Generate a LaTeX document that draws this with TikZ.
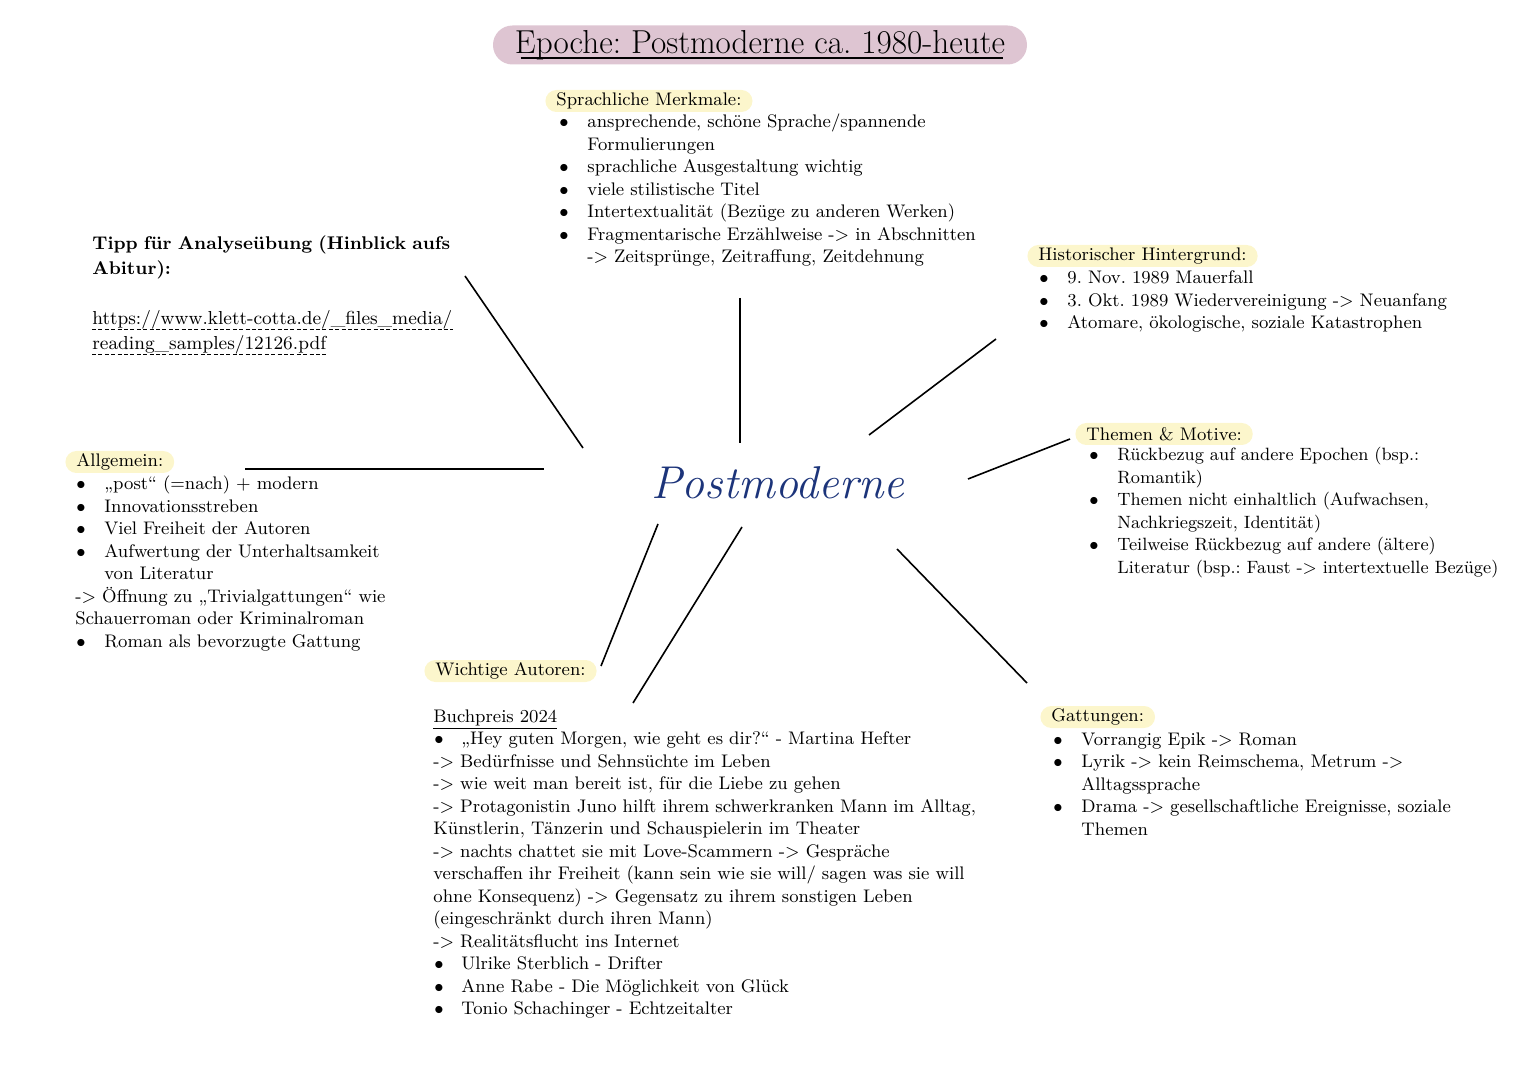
\documentclass[tikz,border=0pt]{standalone}
\usepackage{fontspec}
\usepackage{xcolor}
\usepackage{tikz}
\usetikzlibrary{calc}
\definecolor{titlepink}{RGB}{222,197,210}
\definecolor{marker}{RGB}{252,246,204}
\definecolor{scriptblue}{RGB}{28,52,122}
\newcommand{\bul}{\makebox[14.5pt][l]{\hspace{0.5pt}$\bullet$}}
\newcommand{\ind}{\hspace{14.5pt}}
\newcommand{\ar}{-{>}}
\frenchspacing

\begin{document}
\begin{tikzpicture}
    [x=0.5pt,y=-0.5pt,
     txt/.style={inner sep=0pt,anchor=base west,text width=300pt,align=left,
       font=\fontsize{9.1}{11.25}\selectfont},
     head/.style={anchor=west,fill=marker,rounded corners=5.5pt,inner xsep=5.5pt,
       inner ysep=0pt,minimum height=11pt,font=\fontsize{9.1}{11.25}\selectfont},
     spoke/.style={line width=0.8pt}]
    \useasboundingbox (0,0) rectangle (1527,1080);
    % title
    \node[fill=titlepink,rounded corners=9.7pt,minimum width=267pt,minimum height=19.5pt,
      inner sep=0pt,font=\fontsize{16.6}{19}\selectfont] (title) at (760,45)
      {Epoche: Postmoderne ca. 1980-heute};
    \draw[line width=0.8pt] ($(title.base west)+(28,5)$) -- ($(title.base east)+(-24,5)$);
    % centre
    \node[text=scriptblue,font=\fontsize{23}{28}\selectfont\itshape] (pm) at (778,483) {Postmoderne};
    % top
    \node[head] (sprH) at (545,101) {Sprachliche Merkmale:};
    \node[txt] (spr) at (558,128) {\bul ansprechende, schöne Sprache/spannende\\
      \ind Formulierungen\\
      \bul sprachliche Ausgestaltung wichtig\\
      \bul viele stilistische Titel\\
      \bul Intertextualität (Bezüge zu anderen Werken)\\
      \bul Fragmentarische Erzählweise \ar{} in Abschnitten\\
      \ind \ar{} Zeitsprünge, Zeitraffung, Zeitdehnung};
    % left
    \node[txt,font=\fontsize{9.2}{12.5}\selectfont\bfseries] (tipp) at (92,250)
      {Tipp für Analyseübung (Hinblick aufs\\ Abitur):};
    \node[txt,text width=,font=\fontsize{9.4}{12.5}\selectfont] (link1) at (92,325) {https://www.klett-cotta.de/\_files\_media/};
    \node[txt,text width=,font=\fontsize{9.4}{12.5}\selectfont] (link2) at (92,350) {reading\_samples/12126.pdf};
    \draw[dashed,dash pattern=on 2pt off 1.2pt,line width=0.5pt]
      ($(link1.base west)+(0,5)$) -- ($(link1.base east)+(0,5)$)
      ($(link2.base west)+(0,5)$) -- ($(link2.base east)+(0,5)$);
    \node[head] (allgH) at (65,462) {Allgemein:};
    \node[txt] (allg) at (75,490) {\bul „post“ (=nach) + modern\\
      \bul Innovationsstreben\\
      \bul Viel Freiheit der Autoren\\
      \bul Aufwertung der Unterhaltsamkeit\\
      \ind von Literatur\\
      \ar{} Öffnung zu „Trivialgattungen“ wie\\
      Schauerroman oder Kriminalroman\\
      \bul Roman als bevorzugte Gattung};
    % right
    \node[head] (histH) at (1027,256) {Historischer Hintergrund:};
    \node[txt] (hist) at (1038,284) {\bul 9. Nov. 1989 Mauerfall\\
      \bul 3. Okt. 1989 Wiedervereinigung \ar{} Neuanfang\\
      \bul Atomare, ökologische, soziale Katastrophen};
    \node[head] (themH) at (1075,434) {Themen \& Motive:};
    \node[txt,font=\fontsize{8.9}{11.25}\selectfont] (them) at (1088,461) {\bul Rückbezug auf andere Epochen (bsp.:\\
      \ind Romantik)\\
      \bul Themen nicht einhaltlich (Aufwachsen,\\
      \ind Nachkriegszeit, Identität)\\
      \bul Teilweise Rückbezug auf andere (ältere)\\
      \ind Literatur (bsp.: Faust \ar{} intertextuelle Bezüge)};
    \node[head] (gattH) at (1040,717) {Gattungen:};
    \node[txt] (gatt) at (1052,745) {\bul Vorrangig Epik \ar{} Roman\\
      \bul Lyrik \ar{} kein Reimschema, Metrum \ar\\
      \ind Alltagssprache\\
      \bul Drama \ar{} gesellschaftliche Ereignisse, soziale\\
      \ind Themen};
    % bottom
    \node[head] (autH) at (424,671) {Wichtige Autoren:};
    \node[txt] (aut) at (433,722) {\underline{Buchpreis 2024}\\
      \makebox[14pt][l]{\hspace{0.5pt}$\bullet$}„Hey guten Morgen, wie geht es dir?“ - Martina Hefter\\
      \ar{} Bedürfnisse und Sehnsüchte im Leben\\
      \ar{} wie weit man bereit ist, für die Liebe zu gehen\\
      \ar{} Protagonistin Juno hilft ihrem schwerkranken Mann im Alltag,\\
      Künstlerin, Tänzerin und Schauspielerin im Theater\\
      \ar{} nachts chattet sie mit Love-Scammern \ar{} Gespräche\\
      verschaffen ihr Freiheit (kann sein wie sie will/ sagen was sie will\\
      ohne Konsequenz) \ar{} Gegensatz zu ihrem sonstigen Leben\\
      (eingeschränkt durch ihren Mann)\\
      \ar{} Realitätsflucht ins Internet\\
      \makebox[14pt][l]{\hspace{0.5pt}$\bullet$}Ulrike Sterblich - Drifter\\
      \makebox[14pt][l]{\hspace{0.5pt}$\bullet$}Anne Rabe - Die Möglichkeit von Glück\\
      \makebox[14pt][l]{\hspace{0.5pt}$\bullet$}Tonio Schachinger - Echtzeitalter};
    % spokes
    \coordinate (tippA) at (465,276);   \coordinate (tippB) at (583,448);
    \coordinate (sprA) at (740,298);    \coordinate (sprB) at (740,443);
    \coordinate (histA) at (996,339);   \coordinate (histB) at (869,435);
    \coordinate (themA) at (1070,439);  \coordinate (themB) at (968,479);
    \coordinate (gattA) at (1027,683);  \coordinate (gattB) at (897,549);
    \coordinate (bpA) at (633,703);     \coordinate (bpB) at (742,527);
    \coordinate (autA) at (601,666);    \coordinate (autB) at (658,524);
    \coordinate (allgA) at (245,469);   \coordinate (allgB) at (544,469);
    \draw[spoke] (tippA) -- (tippB);
    \draw[spoke] (sprA) -- (sprB);
    \draw[spoke] (histA) -- (histB);
    \draw[spoke] (themA) -- (themB);
    \draw[spoke] (gattA) -- (gattB);
    \draw[spoke] (bpA) -- (bpB);
    \draw[spoke] (autA) -- (autB);
    \draw[spoke] (allgA) -- (allgB);
  \end{tikzpicture}
\end{document}
